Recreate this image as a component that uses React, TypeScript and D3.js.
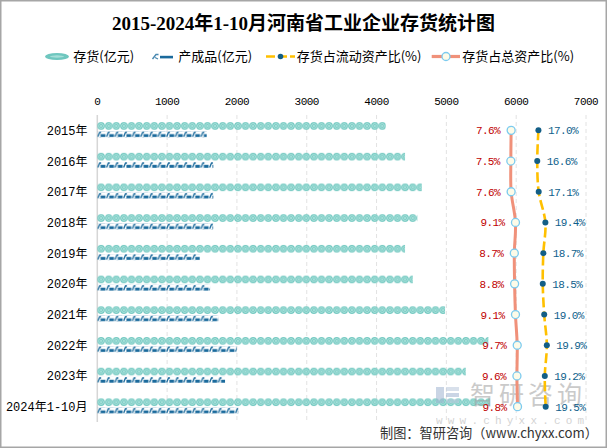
import React from 'react';
import * as d3 from 'd3';

const title = '2015-2024年1-10月河南省工业企业存货统计图';
const categories = ['2015年', '2016年', '2017年', '2018年', '2019年', '2020年', '2021年', '2022年', '2023年', '2024年1-10月'];
const inventory = [4132, 4408, 4648, 4585, 4408, 4519, 4981, 5602, 5278, 5626];
const finishedGoods = [1567, 1662, 1662, 1660, 1470, 1615, 1734, 1997, 1830, 2020];
const currentRatio = [17.0, 16.6, 17.1, 19.4, 18.7, 18.5, 19.0, 19.9, 19.2, 19.5];
const totalRatio = [7.6, 7.5, 7.6, 9.1, 8.7, 8.8, 9.1, 9.7, 9.6, 9.8];
const xTicks = [0, 1000, 2000, 3000, 4000, 5000, 6000, 7000];
const legendLabels = ['存货(亿元)', '产成品(亿元)', '存货占流动资产比(%)', '存货占总资产比(%)'];
const caption = '制图：智研咨询（www.chyxx.com）';

const W = 607;
const H = 448;
const CJK = '"Noto Sans CJK SC", sans-serif';
const MONO = '"Liberation Mono", "Noto Sans CJK SC", monospace';

const TEAL = '#6fc7bf';
const TEAL_LIGHT = '#bdeae4';
const BLUE = '#1a6a9c';
const SALMON = '#f0917a';
const YELLOW = '#ffc000';
const DOT = '#135e86';
const RED_TXT = '#c00000';
const BLUE_TXT = '#0f5f8c';

export default function App() {
  const x = d3.scaleLinear().domain([0, 7000]).range([97.3, 586]);
  const pct = d3.scaleLinear().domain([-135, 33.4]).range([97.3, 586]);
  const y = d3.scaleBand<string>().domain(categories).range([115, 422]);
  const cy = (i: number) => (y(categories[i]) as number) + y.bandwidth() / 2;

  const line = d3
    .line<number>()
    .x((d) => pct(d))
    .y((_, i) => cy(i))
    .curve(d3.curveCatmullRom.alpha(0.5));

  const [plotTop, plotBottom] = y.range();

  return (
    <svg
      width={W}
      height={H}
      style={{ position: 'absolute', left: 0, top: 0, background: '#fff' }}
    >
      <defs>
        <pattern id="stockPat" patternUnits="userSpaceOnUse" width={7.6} height={7.6}>
          <circle cx={3.8} cy={3.8} r={3.7} fill={TEAL} />
          <circle cx={3.8} cy={3.8} r={2.3} fill="none" stroke={TEAL_LIGHT} strokeWidth={0.8} />
          <circle cx={3.8} cy={3.8} r={0.9} fill={TEAL_LIGHT} />
        </pattern>
        <pattern id="prodPat" patternUnits="userSpaceOnUse" width={8.6} height={6}>
          <path d="M0.6,5.6 L2.4,1 L3.9,1" stroke={BLUE} strokeWidth={1.3} fill="none" />
          <rect x={3.3} y={2.8} width={4.8} height={3} fill={BLUE} />
        </pattern>
      </defs>

      <rect x={0.75} y={0.75} width={W - 1.5} height={H - 1.5} fill="#fff" stroke="#a6a6a6" strokeWidth={1.5} />

      {/* title */}
      <text
        x={303.5}
        y={30}
        textAnchor="middle"
        fontSize={19}
        fontWeight="bold"
        fontFamily={'"Liberation Serif", "Noto Sans CJK SC", serif'}
        fill="#000"
      >
        {title}
      </text>

      {/* legend */}
      <g fontFamily={CJK} fontSize={13} fill="#000">
        <ellipse cx={57} cy={56.5} rx={12} ry={3.6} fill={TEAL} />
        <ellipse cx={57} cy={56.5} rx={7} ry={1.2} fill={TEAL_LIGHT} opacity={0.7} />
        <text x={73.3} y={61}>{legendLabels[0]}</text>

        <path d="M152.5,59 L156,54.5 L158.5,54.5" stroke={BLUE} strokeWidth={1.4} fill="none" opacity={0.8} />
        <path d="M155,57.5 L158,59" stroke={BLUE} strokeWidth={1.2} fill="none" opacity={0.8} />
        <rect x={160} y={55.8} width={13} height={2.6} fill={BLUE} />
        <text x={178.3} y={61}>{legendLabels[1]}</text>

        <line x1={266} x2={295} y1={56.5} y2={56.5} stroke={YELLOW} strokeWidth={2.6} strokeDasharray="9 3" />
        <circle cx={280.5} cy={56.5} r={2.8} fill={DOT} />
        <text x={296.7} y={61}>{legendLabels[2]}</text>

        <line x1={431.7} x2={460} y1={56.5} y2={56.5} stroke={SALMON} strokeWidth={3.2} />
        <circle cx={446} cy={56.5} r={4} fill="#fdfbe8" stroke="#7ccbef" strokeWidth={1.3} />
        <text x={462.3} y={61}>{legendLabels[3]}</text>
      </g>

      {/* x tick labels */}
      <g fontFamily={MONO} fontSize={11} fill="#000" letterSpacing={-0.5}>
        {xTicks.map((t) => (
          <text key={t} x={x(t)} y={105} textAnchor="middle">
            {t}
          </text>
        ))}
      </g>

      {/* gridlines */}
      {xTicks.slice(1).map((t) => (
        <line
          key={t}
          x1={x(t)}
          x2={x(t)}
          y1={plotTop}
          y2={plotBottom}
          stroke="#e2e2e2"
          strokeWidth={1}
          strokeDasharray="4 3"
        />
      ))}
      <line x1={x(0)} x2={x(0)} y1={plotTop} y2={plotBottom} stroke="#d6d6d6" strokeWidth={1.5} />

      {/* category labels */}
      <g fontFamily={MONO} fontSize={12} fill="#000">
        {categories.map((c, i) => (
          <text key={c} x={87.5} y={cy(i) + 4.5} textAnchor="end">
            {c}
          </text>
        ))}
      </g>

      {/* bars */}
      {categories.map((c, i) => (
        <g key={c}>
          <g transform={`translate(${x(0)},${cy(i) - 8.2})`}>
            <rect x={0} y={0} width={x(inventory[i]) - x(0)} height={7.6} fill="url(#stockPat)" />
          </g>
          <g transform={`translate(${x(0)},${cy(i) + 1})`}>
            <rect x={0} y={0} width={x(finishedGoods[i]) - x(0)} height={6} fill="url(#prodPat)" />
          </g>
        </g>
      ))}

      {/* watermark */}
      <g opacity={0.55}>
        <rect x={436} y={387} width={8} height={16} fill="#9fb4d0" />
        <rect x={446} y={387} width={13} height={4} fill="#b9c8dc" />
        <rect x={446} y={393} width={13} height={4} fill="#9fb4d0" />
        <rect x={446} y={399} width={13} height={4} fill="#b9c8dc" />
        <text x={470} y={404} fontFamily={CJK} fontSize={25} fill="#a0a0a0" letterSpacing={4}>
          智研咨询
        </text>
        <text x={436} y={424} fontFamily={MONO} fontSize={11} fill="#b0b0b0" letterSpacing={5.2}>
          www.chyxx.com
        </text>
      </g>

      {/* lines */}
      <path d={line(totalRatio) || ''} fill="none" stroke={SALMON} strokeWidth={3} />
      <path d={line(currentRatio) || ''} fill="none" stroke={YELLOW} strokeWidth={2.6} strokeDasharray="10 4" />

      {totalRatio.map((v, i) => (
        <circle key={'t' + i} cx={pct(v)} cy={cy(i)} r={4} fill="#fdfbe8" stroke="#7ccbef" strokeWidth={1.3} />
      ))}
      {currentRatio.map((v, i) => (
        <circle key={'c' + i} cx={pct(v)} cy={cy(i)} r={3} fill={DOT} />
      ))}

      {/* data labels */}
      <g fontFamily={MONO} fontSize={11} letterSpacing={-0.6}>
        {totalRatio.map((v, i) => (
          <text key={'tl' + i} x={pct(v) - 11} y={cy(i) + 4} textAnchor="end" fill={RED_TXT}>
            {v.toFixed(1) + '%'}
          </text>
        ))}
        {currentRatio.map((v, i) => (
          <text key={'cl' + i} x={pct(v) + 9.5} y={cy(i) + 4} textAnchor="start" fill={BLUE_TXT}>
            {v.toFixed(1) + '%'}
          </text>
        ))}
      </g>

      {/* caption */}
      <text x={380} y={438} fontFamily={CJK} fontSize={13.2} fill="#333">
        {caption}
      </text>
    </svg>
  );
}
